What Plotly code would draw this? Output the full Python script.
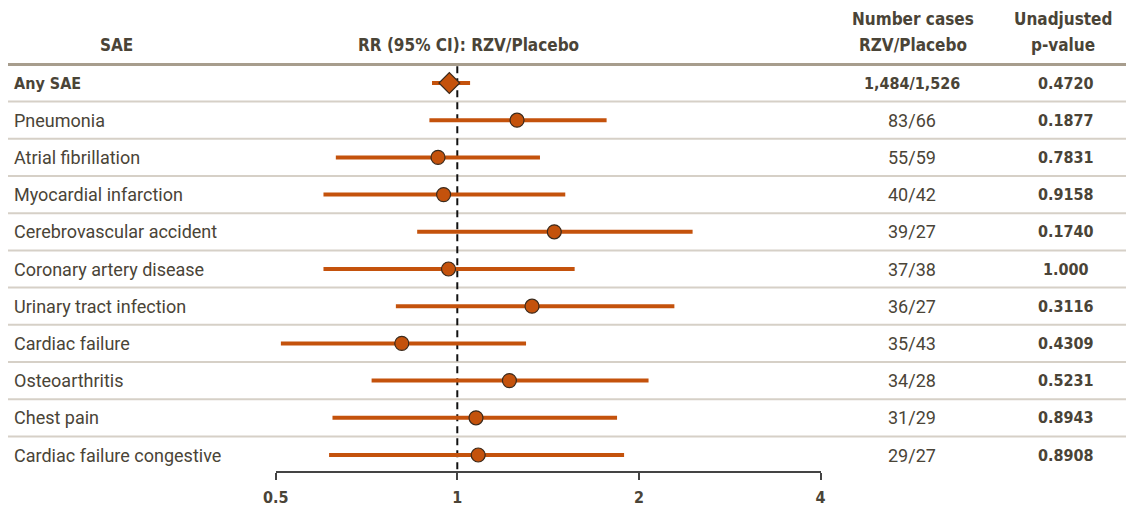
import math
import plotly.graph_objects as go

# ---- data ----
categories = ["Any SAE", "Pneumonia", "Atrial fibrillation", "Myocardial infarction",
              "Cerebrovascular accident", "Coronary artery disease", "Urinary tract infection",
              "Cardiac failure", "Osteoarthritis", "Chest pain", "Cardiac failure congestive"]
rr = [0.970, 1.256, 0.929, 0.949, 1.448, 0.967, 1.330, 0.809, 1.220, 1.074, 1.083]
ci_low = [0.908, 0.899, 0.629, 0.600, 0.858, 0.600, 0.791, 0.510, 0.721, 0.621, 0.613]
ci_high = [1.050, 1.768, 1.371, 1.510, 2.455, 1.565, 2.290, 1.300, 2.075, 1.840, 1.890]
cases = ["1,484/1,526", "83/66", "55/59", "40/42", "39/27", "37/38", "36/27",
         "35/43", "34/28", "31/29", "29/27"]
pvalues = ["0.4720", "0.1877", "0.7831", "0.9158", "0.1740", "1.000", "0.3116",
           "0.4309", "0.5231", "0.8943", "0.8908"]
tick_vals = [0.5, 1, 2, 4]
tick_text = ["0.5", "1", "2", "4"]

# ---- styles ----
W, H = 1126, 508
ORANGE = "#c4520c"
TXT = "#4a4437"
BODY_FONT = "Roboto, Noto Sans, sans-serif"
BOLD_FONT = "Noto Sans ExtraCondensed, Noto Sans Condensed, DejaVu Sans Condensed, sans-serif"
ROW_H = 37.2
ROW0_PX = 83
AXIS_PX = 472

n = len(categories)
rows = list(range(n))

fig = go.Figure()

# CI lines
xs, ys = [], []
for i in rows:
    xs += [ci_low[i], ci_high[i], None]
    ys += [i, i, None]
fig.add_trace(go.Scatter(x=xs, y=ys, mode="lines", opacity=1,
                         line=dict(color=ORANGE, width=4), hoverinfo="skip"))

# point estimates
symbols = ["diamond"] + ["circle"] * (n - 1)
sizes = [16] + [14] * (n - 1)
fig.add_trace(go.Scatter(x=rr, y=rows, mode="markers", opacity=1,
                         marker=dict(symbol=symbols, size=sizes, color=ORANGE, opacity=1,
                                     line=dict(color="#3b2a1c", width=1.2)),
                         hoverinfo="skip"))

shapes = []
# header line
shapes.append(dict(type="line", xref="paper", yref="y", x0=8 / W, x1=1,
                   y0=-0.5, y1=-0.5, line=dict(color="#a79d8d", width=3), layer="below"))
# row separators
for i in rows[:-1]:
    shapes.append(dict(type="line", xref="paper", yref="y", x0=8 / W, x1=1,
                       y0=i + 0.5, y1=i + 0.5, line=dict(color="#d6d0c7", width=2),
                       layer="below"))
# reference line at RR = 1 (ends at the axis line)
shapes.append(dict(type="line", xref="x", yref="y", x0=1, x1=1, y0=-0.45,
                   y1=(AXIS_PX - ROW0_PX) / ROW_H,
                   line=dict(color="#111111", width=2, dash="7px,5px"), layer="below"))

annotations = []
for i in rows:
    bold = i == 0
    annotations.append(dict(xref="paper", yref="y", x=12 / W, y=i, text=categories[i],
                            xanchor="left", yanchor="middle", showarrow=False,
                            font=dict(family=BOLD_FONT if bold else BODY_FONT,
                                      size=16 if bold else 18, color=TXT,
                                      weight="bold" if bold else "normal")))
    annotations.append(dict(xref="paper", yref="y", x=912 / W, y=i, text=cases[i],
                            xanchor="center", yanchor="middle", showarrow=False,
                            font=dict(family=BOLD_FONT if bold else BODY_FONT,
                                      size=16 if bold else 18, color=TXT,
                                      weight="bold" if bold else "normal")))
    annotations.append(dict(xref="paper", yref="y", x=1066 / W, y=i, text=pvalues[i],
                            xanchor="center", yanchor="middle", showarrow=False,
                            font=dict(family=BOLD_FONT, size=16, color=TXT, weight="bold")))

hdr_font = dict(family=BOLD_FONT, size=17, color=TXT, weight="bold")
for x, yp, t in [(116, 45, "SAE"), (468, 45, "RR (95% CI): RZV/Placebo"),
                 (913, 19, "Number cases"), (913, 45, "RZV/Placebo"),
                 (1063, 19, "Unadjusted"), (1063, 45, "p-value")]:
    annotations.append(dict(xref="paper", yref="paper", x=x / W, y=1 - yp / H, text=t,
                            xanchor="center", yanchor="middle", showarrow=False,
                            font=hdr_font))

x0_px, x1_px = 275.7, 820.5
fig.update_layout(
    template="none",
    width=W, height=H,
    margin=dict(l=0, r=0, t=0, b=0, pad=0, autoexpand=False),
    paper_bgcolor="white", plot_bgcolor="white",
    showlegend=False,
    shapes=shapes, annotations=annotations,
    xaxis=dict(type="log", range=[math.log10(0.5), math.log10(4)],
               domain=[x0_px / W, x1_px / W], anchor="free", position=1 - AXIS_PX / H,
               automargin=False,
               showline=True, linecolor="#444444", linewidth=1.5,
               ticks="outside", ticklen=7, tickwidth=1.5, tickcolor="#444444",
               tickvals=tick_vals, ticktext=tick_text, ticklabelstandoff=4,
               tickfont=dict(family=BOLD_FONT, size=16, color=TXT, weight="bold"),
               showgrid=False, zeroline=False, fixedrange=True),
    yaxis=dict(range=[(H - ROW0_PX) / ROW_H, -ROW0_PX / ROW_H], domain=[0, 1], visible=False,
               automargin=False, fixedrange=True),
)

fig.write_html("out.html", config={"displayModeBar": False},
               post_script="document.body.style.margin='0px';document.body.style.overflow='hidden';")
